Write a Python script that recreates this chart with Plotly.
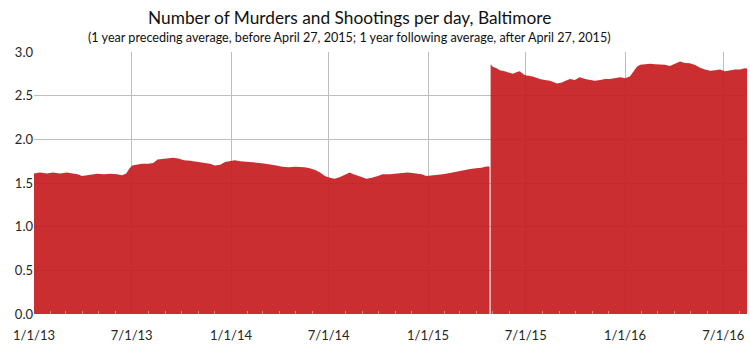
import plotly.graph_objects as go

# Rolling one-year average of murders + shootings per day, Baltimore.
# Before April 27, 2015: trailing 1-year average; after: leading 1-year average.
pre_dates = [
    "2013-01-01", "2013-01-12", "2013-01-25", "2013-02-05", "2013-02-18", "2013-03-03",
    "2013-03-14", "2013-03-23", "2013-03-31", "2013-04-09", "2013-04-19", "2013-04-28",
    "2013-05-11", "2013-05-22", "2013-06-04", "2013-06-13", "2013-06-21", "2013-06-26",
    "2013-07-02", "2013-07-11", "2013-07-20", "2013-07-31", "2013-08-10", "2013-08-18",
    "2013-08-29", "2013-09-06", "2013-09-16", "2013-09-25", "2013-10-06", "2013-10-17",
    "2013-10-30", "2013-11-10", "2013-11-23", "2013-12-02", "2013-12-12", "2013-12-21",
    "2013-12-30", "2014-01-08", "2014-01-18", "2014-01-31", "2014-02-11", "2014-02-23",
    "2014-03-06", "2014-03-13", "2014-03-26", "2014-04-06", "2014-04-19", "2014-04-29",
    "2014-05-08", "2014-05-17", "2014-05-27", "2014-06-06", "2014-06-15", "2014-06-24",
    "2014-07-03", "2014-07-12", "2014-07-21", "2014-07-31", "2014-08-09", "2014-08-16",
    "2014-08-24", "2014-08-31", "2014-09-09", "2014-09-19", "2014-09-30", "2014-10-09",
    "2014-10-22", "2014-11-02", "2014-11-13", "2014-11-24", "2014-12-03", "2014-12-13",
    "2014-12-20", "2014-12-29", "2015-01-08", "2015-01-17", "2015-01-28", "2015-02-06",
    "2015-02-17", "2015-02-28", "2015-03-11", "2015-03-20", "2015-03-31", "2015-04-10",
    "2015-04-19", "2015-04-25",
]
pre_values = [
    1.61, 1.62, 1.61, 1.62, 1.61, 1.62,
    1.61, 1.60, 1.58, 1.59, 1.60, 1.605,
    1.60, 1.605, 1.60, 1.59, 1.61, 1.66,
    1.70, 1.71, 1.72, 1.72, 1.73, 1.77,
    1.78, 1.785, 1.79, 1.78, 1.76, 1.755,
    1.74, 1.73, 1.72, 1.70, 1.71, 1.74,
    1.75, 1.76, 1.75, 1.745, 1.74, 1.73,
    1.72, 1.71, 1.70, 1.685, 1.68, 1.685,
    1.685, 1.68, 1.67, 1.65, 1.62, 1.58,
    1.56, 1.55, 1.565, 1.59, 1.62, 1.60,
    1.58, 1.57, 1.55, 1.56, 1.58, 1.60,
    1.60, 1.605, 1.61, 1.62, 1.615, 1.61,
    1.60, 1.58, 1.585, 1.59, 1.60, 1.61,
    1.625, 1.635, 1.65, 1.66, 1.67, 1.675,
    1.69, 1.69,
]

post_dates = [
    "2015-04-27", "2015-05-01", "2015-05-09", "2015-05-14", "2015-05-23", "2015-06-02",
    "2015-06-07", "2015-06-15", "2015-06-20", "2015-06-28", "2015-07-03", "2015-07-14",
    "2015-07-27", "2015-08-05", "2015-08-15", "2015-08-28", "2015-09-06", "2015-09-13",
    "2015-09-21", "2015-09-30", "2015-10-09", "2015-10-19", "2015-10-28", "2015-11-06",
    "2015-11-16", "2015-11-25", "2015-12-04", "2015-12-14", "2015-12-23", "2016-01-01",
    "2016-01-10", "2016-01-16", "2016-01-23", "2016-01-29", "2016-02-08", "2016-02-17",
    "2016-02-26", "2016-03-06", "2016-03-15", "2016-03-24", "2016-04-02", "2016-04-12",
    "2016-04-21", "2016-04-30", "2016-05-10", "2016-05-19", "2016-05-28", "2016-06-07",
    "2016-06-16", "2016-06-25", "2016-07-04", "2016-07-13", "2016-07-23", "2016-08-01",
    "2016-08-10", "2016-08-14",
]
post_values = [
    2.86, 2.83, 2.81, 2.79, 2.78, 2.765,
    2.75, 2.77, 2.78, 2.74, 2.73, 2.72,
    2.69, 2.68, 2.67, 2.64, 2.65, 2.67,
    2.69, 2.68, 2.71, 2.69, 2.68, 2.67,
    2.68, 2.69, 2.69, 2.70, 2.71, 2.70,
    2.72, 2.77, 2.83, 2.855, 2.86, 2.865,
    2.86, 2.86, 2.855, 2.84, 2.86, 2.89,
    2.875, 2.87, 2.85, 2.82, 2.80, 2.785,
    2.79, 2.80, 2.78, 2.79, 2.80, 2.80,
    2.815, 2.81,
]

x_range = ["2013-01-01", "2016-08-14"]
y_ticks = [0.0, 0.5, 1.0, 1.5, 2.0, 2.5, 3.0]

title_text = "Number of Murders and Shootings per day, Baltimore"
subtitle_text = ("(1 year preceding average, before April 27, 2015; "
                 "1 year following average, after April 27, 2015)")

FILL = "rgba(199,28,32,0.92)"
FONT = "Lato, 'Open Sans', sans-serif"

fig = go.Figure()
for xs, ys in ((pre_dates, pre_values), (post_dates, post_values)):
    fig.add_trace(go.Scatter(
        x=xs, y=ys, mode="lines", fill="tozeroy",
        fillcolor=FILL, line=dict(width=0, color=FILL),
        hoverinfo="x+y", showlegend=False,
    ))

fig.update_layout(
    width=750, height=345,
    margin=dict(l=34, r=3, t=52, b=31),
    paper_bgcolor="white", plot_bgcolor="white",
    font=dict(family=FONT, color="#262626", size=13),
    showlegend=False,
    annotations=[
        dict(text=title_text, xref="paper", yref="paper", x=0.443, y=1,
             xanchor="center", yanchor="middle", yshift=35, showarrow=False,
             font=dict(family=FONT, size=17.3, color="#111111")),
        dict(text=subtitle_text, xref="paper", yref="paper", x=0.443, y=1,
             xanchor="center", yanchor="middle", yshift=15, showarrow=False,
             font=dict(family=FONT, size=12.6, color="#111111")),
    ],
)

fig.update_xaxes(
    type="date", range=x_range,
    tick0="2013-01-01", dtick="M6", tickformat="%-m/%-d/%y",
    showgrid=True, gridcolor="#bdbdbd", gridwidth=1,
    showline=False, zeroline=False, ticks="",
    ticklabelstandoff=12,
    tickfont=dict(size=13, color="#262626"),
    minor=dict(dtick="M1", tick0="2013-01-01", ticks="inside", ticklen=3,
               tickcolor="rgba(255,255,255,0.4)", showgrid=False),
)
fig.update_yaxes(
    range=[0, 3], tickvals=y_ticks, tickformat=".1f",
    showgrid=True, gridcolor="#bdbdbd", gridwidth=1,
    showline=False, zeroline=False, ticks="",
    tickfont=dict(size=13, color="#262626"),
)

fig.write_html("out.html")
